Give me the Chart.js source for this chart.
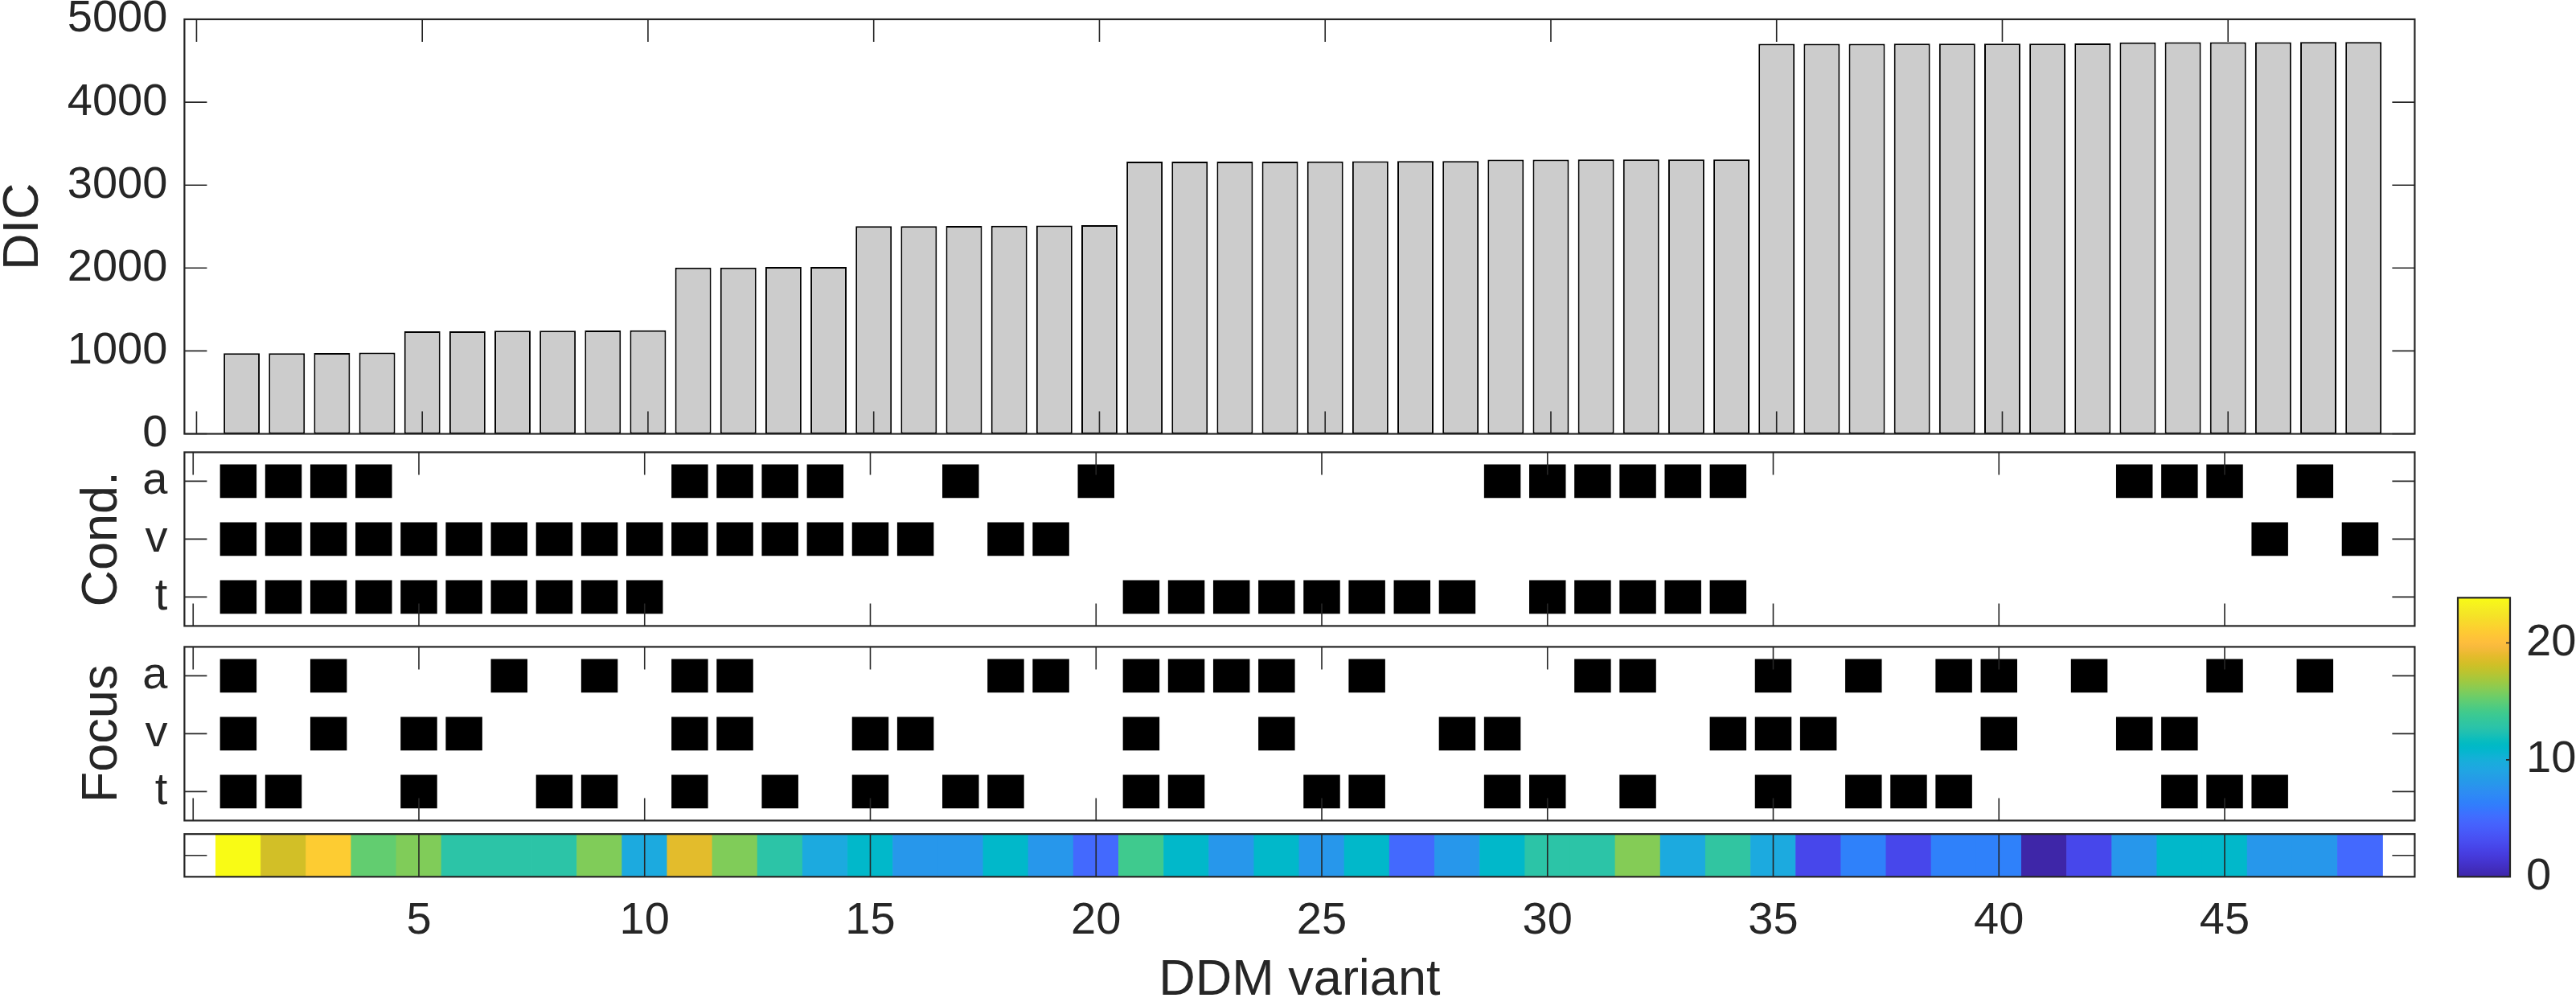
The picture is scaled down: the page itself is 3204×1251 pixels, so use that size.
<!DOCTYPE html>
<html>
<head>
<meta charset="utf-8">
<script src="https://cdn.jsdelivr.net/npm/chart.js@4.4.1/dist/chart.umd.min.js"></script>
<style>
html, body { margin: 0; padding: 0; background: #ffffff; overflow: hidden; }
#wrap { position: relative; width: 3204px; height: 1251px; background: #ffffff; }
#wrap canvas { position: absolute; left: 0; top: 0; }
</style>
</head>
<body>
<div id="wrap">
  <canvas id="cDIC" width="3204" height="1251"></canvas>
  <canvas id="cCond" width="3204" height="1251"></canvas>
  <canvas id="cFocus" width="3204" height="1251"></canvas>
  <canvas id="cStrip" width="3204" height="1251"></canvas>
  <canvas id="cBar" width="3204" height="1251"></canvas>
</div>
<script>
// ---------------- DATA ----------------
const variants = [1,2,3,4,5,6,7,8,9,10,11,12,13,14,15,16,17,18,19,20,21,22,23,24,
                  25,26,27,28,29,30,31,32,33,34,35,36,37,38,39,40,41,42,43,44,45,46,47,48];

const dic = [973, 973, 974, 980, 1236, 1237, 1243, 1244, 1246, 1248, 2005, 2006,
             2012, 2013, 2505, 2505, 2508, 2510, 2512, 2518, 3283, 3283, 3284, 3284,
             3285, 3289, 3290, 3291, 3307, 3308, 3309, 3309, 3310, 3310, 4704, 4705,
             4705, 4706, 4706, 4707, 4707, 4708, 4722, 4723, 4724, 4724, 4725, 4726];

const condA = [1,1,1,1,0,0,0,0,0,0,1,1, 1,1,0,0,1,0,0,1,0,0,0,0, 0,0,0,0,1,1,1,1,1,1,0,0, 0,0,0,0,0,0,1,1,1,0,1,0];
const condV = [1,1,1,1,1,1,1,1,1,1,1,1, 1,1,1,1,0,1,1,0,0,0,0,0, 0,0,0,0,0,0,0,0,0,0,0,0, 0,0,0,0,0,0,0,0,0,1,0,1];
const condT = [1,1,1,1,1,1,1,1,1,1,0,0, 0,0,0,0,0,0,0,0,1,1,1,1, 1,1,1,1,0,1,1,1,1,1,0,0, 0,0,0,0,0,0,0,0,0,0,0,0];

const focusA = [1,0,1,0,0,0,1,0,1,0,1,1, 0,0,0,0,0,1,1,0,1,1,1,1, 0,1,0,0,0,0,1,1,0,0,1,0, 1,0,1,1,0,1,0,0,1,0,1,0];
const focusV = [1,0,1,0,1,1,0,0,0,0,1,1, 0,0,1,1,0,0,0,0,1,0,0,1, 0,0,0,1,1,0,0,0,0,1,1,1, 0,0,0,1,0,0,1,1,0,0,0,0];
const focusT = [1,1,0,0,1,0,0,1,1,0,1,0, 1,0,1,0,1,1,0,0,1,1,0,0, 1,1,0,0,1,1,0,1,0,0,1,0, 1,1,1,0,0,0,0,1,1,1,0,0];

const stripValues = [23.86, 18.2, 21.0, 15.1, 15.9, 12.9, 12.9, 12.9, 15.9, 9.5, 18.8, 15.9,
                     12.9, 9.5, 11.0, 8.0, 8.0, 11.0, 8.0, 4.9, 14.0, 11.0, 8.0, 11.0,
                     8.0, 11.0, 4.9, 8.0, 11.0, 12.9, 12.9, 16.0, 9.5, 13.2, 9.5, 2.65,
                     6.4, 2.65, 6.4, 6.4, 0.0, 2.65, 8.0, 11.0, 11.0, 8.0, 8.0, 4.9];

const rowLabels = ['a', 'v', 't'];
const dicTicks = [0, 1000, 2000, 3000, 4000, 5000];
const panelXTicks = [0, 5, 10, 15, 20, 25, 30, 35, 40, 45];
const stripXTicks = [5, 10, 15, 20, 25, 30, 35, 40, 45];
const colorbarTicks = [0, 10, 20];

// ---------------- COLORMAP (parula) ----------------
const PARULA = [
[0.2422,0.1504,0.6603],[0.2504,0.1650,0.7076],[0.2578,0.1818,0.7511],[0.2647,0.1978,0.7952],
[0.2706,0.2147,0.8364],[0.2751,0.2342,0.8710],[0.2783,0.2559,0.8991],[0.2803,0.2782,0.9221],
[0.2813,0.3006,0.9414],[0.2810,0.3228,0.9579],[0.2795,0.3447,0.9717],[0.2760,0.3667,0.9829],
[0.2699,0.3892,0.9906],[0.2602,0.4123,0.9952],[0.2440,0.4358,0.9988],[0.2206,0.4603,0.9973],
[0.1963,0.4847,0.9892],[0.1834,0.5074,0.9798],[0.1786,0.5289,0.9682],[0.1764,0.5499,0.9520],
[0.1687,0.5703,0.9359],[0.1540,0.5902,0.9218],[0.1460,0.6091,0.9079],[0.1380,0.6276,0.8973],
[0.1248,0.6459,0.8883],[0.1113,0.6635,0.8763],[0.0952,0.6798,0.8598],[0.0689,0.6948,0.8394],
[0.0297,0.7082,0.8163],[0.0036,0.7203,0.7917],[0.0067,0.7312,0.7660],[0.0433,0.7411,0.7394],
[0.0964,0.7500,0.7120],[0.1408,0.7584,0.6842],[0.1717,0.7670,0.6554],[0.1938,0.7758,0.6251],
[0.2161,0.7843,0.5923],[0.2470,0.7918,0.5567],[0.2906,0.7973,0.5188],[0.3406,0.8008,0.4789],
[0.3909,0.8029,0.4354],[0.4456,0.8024,0.3909],[0.5044,0.7993,0.3480],[0.5616,0.7942,0.3045],
[0.6174,0.7876,0.2612],[0.6720,0.7793,0.2227],[0.7242,0.7698,0.1910],[0.7738,0.7598,0.1646],
[0.8203,0.7498,0.1535],[0.8634,0.7406,0.1596],[0.9035,0.7330,0.1774],[0.9393,0.7288,0.2100],
[0.9728,0.7298,0.2394],[0.9956,0.7434,0.2371],[0.9970,0.7659,0.2199],[0.9952,0.7893,0.2028],
[0.9892,0.8136,0.1885],[0.9786,0.8386,0.1766],[0.9676,0.8639,0.1643],[0.9610,0.8890,0.1537],
[0.9597,0.9135,0.1423],[0.9628,0.9373,0.1265],[0.9691,0.9606,0.1064],[0.9769,0.9839,0.0805]];

function rgbOf(c) { return 'rgb(' + Math.round(c[0]*255) + ',' + Math.round(c[1]*255) + ',' + Math.round(c[2]*255) + ')'; }
function parula(t) {
  t = Math.max(0, Math.min(1, t));
  const p = t * (PARULA.length - 1);
  const i = Math.floor(p), f = p - i;
  const a = PARULA[i], b = PARULA[Math.min(i + 1, PARULA.length - 1)];
  return rgbOf([a[0] + (b[0]-a[0])*f, a[1] + (b[1]-a[1])*f, a[2] + (b[2]-a[2])*f]);
}
const cMin = Math.min(...stripValues);
const cMax = Math.max(...stripValues);

// ---------------- LAYOUT / STYLE ----------------
Chart.defaults.font.family = "'Liberation Sans', Arial, Helvetica, sans-serif";
Chart.defaults.color = '#262626';
Chart.defaults.animation = false;
Chart.defaults.responsive = false;
Chart.defaults.events = [];
Chart.defaults.plugins.legend.display = false;
Chart.defaults.plugins.tooltip.enabled = false;

const W = 3204, H = 1251;
const INK = '#262626';
const TICK_FONT = { size: 56 };
const LABEL_FONT = { size: 63, lineHeight: 1 };
const TICK_LEN = 28;
const plainNumber = v => String(v);

const AREA_DIC   = { left: 229.4, right: 3003.4, top: 24,    bottom: 539.5 };
const AREA_COND  = { left: 229.4, right: 3003.4, top: 562.4, bottom: 778.4 };
const AREA_FOCUS = { left: 229.4, right: 3003.4, top: 804.4, bottom: 1020.4 };
const AREA_STRIP = { left: 229.4, right: 3003.4, top: 1037.2, bottom: 1090.3 };
const AREA_CBAR  = { left: 3057,  right: 3122,   top: 743.3, bottom: 1090.3 };
const XR_TOP = [-0.268, 49.135];
const XR_LOW = [-0.193, 49.21];

function fixWidth(w) {
  return s => { s.width = w; s.paddingTop = 0; s.paddingBottom = 0; s.paddingLeft = 0; s.paddingRight = 0; };
}
function fixHeight(h) {
  return s => { s.height = h; s.paddingTop = 0; s.paddingBottom = 0; s.paddingLeft = 0; s.paddingRight = 0; };
}
function setTicks(list) {
  return s => { s.ticks = list.map(v => ({ value: v })); };
}

// axes box + inward tick marks (MATLAB look)
function axesFrame(cfg) {
  return {
    id: 'axesFrame',
    afterDatasetsDraw(chart) {
      const { ctx, chartArea: a, scales } = chart;
      ctx.save();
      ctx.strokeStyle = INK;
      ctx.lineWidth = 1.6;
      ctx.beginPath();
      (cfg.xTicks || []).forEach(v => {
        const px = scales.x.getPixelForValue(v);
        ctx.moveTo(px, a.bottom); ctx.lineTo(px, a.bottom - cfg.len);
        ctx.moveTo(px, a.top); ctx.lineTo(px, a.top + cfg.len);
      });
      (cfg.yTicks || []).forEach(v => {
        const py = scales.y.getPixelForValue(v);
        if (cfg.ySides.includes('left')) { ctx.moveTo(a.left, py); ctx.lineTo(a.left + cfg.len, py); }
        if (cfg.ySides.includes('right')) { ctx.moveTo(a.right, py); ctx.lineTo(a.right - cfg.len, py); }
      });
      ctx.stroke();
      ctx.lineWidth = 2.2;
      ctx.strokeRect(a.left, a.top, a.right - a.left, a.bottom - a.top);
      ctx.restore();
    }
  };
}

const hiddenGrid = { display: false, drawTicks: false };
const noBorder = { display: false };

// ---------------- DIC bar panel ----------------
new Chart(document.getElementById('cDIC'), {
  type: 'bar',
  data: {
    datasets: [{
      data: variants.map((v, i) => ({ x: v, y: dic[i] })),
      backgroundColor: '#cccccc',
      borderColor: '#000000',
      borderWidth: 2,
      borderSkipped: false,
      barPercentage: 0.8,
      categoryPercentage: 1
    }]
  },
  options: {
    layout: { padding: { left: 0, top: AREA_DIC.top, right: W - AREA_DIC.right, bottom: H - AREA_DIC.bottom } },
    scales: {
      x: { type: 'linear', display: false, offset: false, min: XR_TOP[0], max: XR_TOP[1], afterBuildTicks: setTicks(panelXTicks) },
      y: {
        type: 'linear', min: 0, max: 5000,
        afterBuildTicks: setTicks(dicTicks),
        ticks: { font: TICK_FONT, padding: 21, color: INK, callback: plainNumber },
        grid: hiddenGrid, border: noBorder,
        title: { display: true, text: 'DIC', font: LABEL_FONT, color: INK, padding: { top: -2, bottom: 0 } },
        afterFit: fixWidth(AREA_DIC.left)
      }
    }
  },
  plugins: [axesFrame({ xTicks: panelXTicks, yTicks: dicTicks, len: TICK_LEN, ySides: ['left', 'right'] })]
});

// ---------------- Cond. / Focus panels ----------------
function rowPanel(id, area, title, rows) {
  const datasets = rows.map((flags, r) => ({
    data: variants.filter((v, i) => flags[i] === 1).map(v => ({ x: v, y: [r + 1 - 0.29, r + 1 + 0.29] })),
    backgroundColor: '#000000',
    borderWidth: 0,
    grouped: false,
    barPercentage: 0.81,
    categoryPercentage: 1
  }));
  new Chart(document.getElementById(id), {
    type: 'bar',
    data: { datasets },
    options: {
      layout: { padding: { left: 0, top: area.top, right: W - area.right, bottom: H - area.bottom } },
      scales: {
        x: { type: 'linear', display: false, offset: false, min: XR_LOW[0], max: XR_LOW[1], afterBuildTicks: setTicks(panelXTicks) },
        y: {
          type: 'linear', reverse: true, min: 0.5, max: 3.5,
          afterBuildTicks: setTicks(rowLabels.map((_, k) => k + 1)),
          ticks: { font: TICK_FONT, padding: 21, color: INK, callback: v => rowLabels[v - 1] },
          grid: hiddenGrid, border: noBorder,
          title: { display: true, text: title, font: LABEL_FONT, color: INK, padding: { top: 96, bottom: 0 } },
          afterFit: fixWidth(area.left)
        }
      }
    },
    plugins: [axesFrame({ xTicks: panelXTicks, yTicks: [1, 2, 3], len: TICK_LEN, ySides: ['left', 'right'] })]
  });
}
rowPanel('cCond', AREA_COND, 'Cond.', [condA, condV, condT]);
rowPanel('cFocus', AREA_FOCUS, 'Focus', [focusA, focusV, focusT]);

// ---------------- colour strip ----------------
new Chart(document.getElementById('cStrip'), {
  type: 'bar',
  data: {
    datasets: [{
      data: variants.map(v => ({ x: v, y: [0, 1] })),
      backgroundColor: stripValues.map(val => parula((val - cMin) / (cMax - cMin))),
      borderWidth: 0,
      barPercentage: 1,
      categoryPercentage: 1
    }]
  },
  options: {
    layout: { padding: { left: 0, top: AREA_STRIP.top, right: W - AREA_STRIP.right, bottom: 0 } },
    scales: {
      x: {
        type: 'linear', position: 'bottom', offset: false, min: XR_LOW[0], max: XR_LOW[1],
        afterBuildTicks: setTicks(stripXTicks),
        ticks: { font: TICK_FONT, padding: 22, color: INK, maxRotation: 0, autoSkip: false, callback: plainNumber },
        grid: hiddenGrid, border: noBorder,
        title: { display: true, text: 'DDM variant', font: LABEL_FONT, color: INK, padding: { top: 0, bottom: 0 } },
        afterFit: fixHeight(H - AREA_STRIP.bottom)
      },
      y: {
        type: 'linear', min: 0, max: 1,
        ticks: { display: false },
        grid: hiddenGrid, border: noBorder,
        afterFit: fixWidth(AREA_STRIP.left)
      }
    }
  },
  plugins: [axesFrame({ xTicks: stripXTicks, yTicks: [0.5], len: TICK_LEN, ySides: ['left', 'right'] })]
});

// ---------------- colour bar ----------------
new Chart(document.getElementById('cBar'), {
  type: 'bar',
  data: {
    labels: [''],
    datasets: [{
      data: [[cMin, cMax]],
      backgroundColor: (ctx) => {
        const a = ctx.chart.chartArea;
        if (!a) return rgbOf(PARULA[0]);
        const g = ctx.chart.ctx.createLinearGradient(0, a.bottom, 0, a.top);
        PARULA.forEach((c, i) => g.addColorStop(i / (PARULA.length - 1), rgbOf(c)));
        return g;
      },
      borderWidth: 0,
      barPercentage: 1,
      categoryPercentage: 1
    }]
  },
  options: {
    layout: { padding: { left: AREA_CBAR.left, top: AREA_CBAR.top, right: 0, bottom: H - AREA_CBAR.bottom } },
    scales: {
      x: { type: 'category', display: false },
      y: {
        type: 'linear', position: 'right', min: cMin, max: cMax,
        afterBuildTicks: setTicks(colorbarTicks),
        ticks: { font: TICK_FONT, padding: 20, color: INK, callback: plainNumber },
        grid: hiddenGrid, border: noBorder,
        afterFit: fixWidth(W - AREA_CBAR.right)
      }
    }
  },
  plugins: [axesFrame({ xTicks: [], yTicks: colorbarTicks, len: 5, ySides: ['right'] })]
});
</script>
</body>
</html>
